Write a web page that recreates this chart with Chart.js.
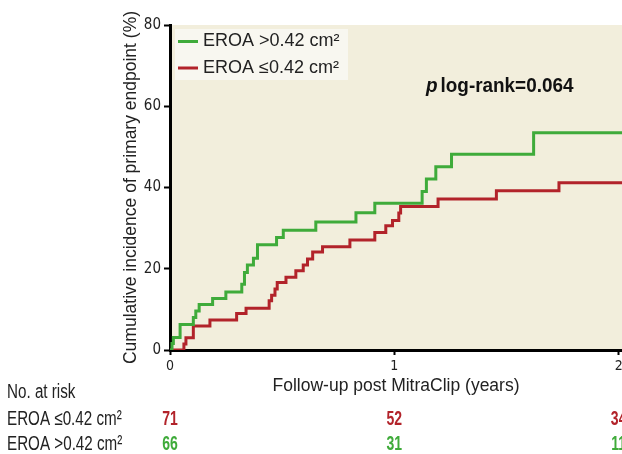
<!DOCTYPE html>
<html>
<head>
<meta charset="utf-8">
<script src="https://cdn.jsdelivr.net/npm/chart.js@4"></script>
<style>
  html, body { margin: 0; padding: 0; background: #fff; }
  canvas { display: block; }
</style>
</head>
<body>
<canvas id="km" width="622" height="454"></canvas>
<script>
// series labels (legend order: green first)
var seriesLabels = ["EROA >0.42 cm²", "EROA ≤0.42 cm²"];

// cumulative incidence steps (years, %)
var greenTimes = [0, 0.009, 0.015, 0.045, 0.104, 0.115, 0.13, 0.19, 0.249, 0.32, 0.332, 0.345, 0.372, 0.39, 0.475, 0.505, 0.65, 0.829, 0.913, 1.124, 1.143, 1.185, 1.255, 1.621, 2.02];
var greenPct   = [0, 1.6, 3.1, 6.3, 8.0, 9.6, 11.2, 12.7, 14.3, 16.2, 19.1, 20.9, 22.6, 25.9, 27.7, 29.5, 31.5, 33.8, 36.1, 39.0, 42.1, 45.1, 48.2, 53.5, 53.5];
var redTimes   = [0, 0.062, 0.071, 0.104, 0.178, 0.297, 0.339, 0.442, 0.453, 0.468, 0.478, 0.517, 0.561, 0.594, 0.613, 0.636, 0.68, 0.802, 0.913, 0.962, 0.992, 1.02, 1.028, 1.195, 1.455, 1.734, 2.02];
var redPct     = [0, 1.5, 3.0, 5.9, 7.4, 9.0, 10.3, 12.1, 13.5, 15.0, 16.6, 17.9, 19.5, 20.9, 22.4, 24.1, 25.4, 27.1, 28.9, 30.6, 31.9, 33.7, 35.3, 37.2, 39.2, 41.2, 41.2];

var xTicks = [0, 1, 2];
var yTicks = [0, 20, 40, 60, 80];

// numbers at risk
var riskTitle = "No. at risk";
var riskTimes = [0, 1, 2];
var riskLow  = [71, 52, 34];
var riskHigh = [66, 31, 11];

var pLabel = "log-rank=0.064";

var GREEN = "#3fab3a";
var RED = "#b2232a";
var TEXT = "#222";
var NARROW = "'Liberation Sans Narrow', 'DejaVu Sans Condensed', 'Liberation Sans', sans-serif";
var SANS = "'Liberation Sans', Arial, sans-serif";

function pts(xs, ys) {
  return xs.map(function (t, i) { return { x: t, y: ys[i] }; });
}

// draw text squeezed horizontally to mimic the condensed face of the original
function squeezed(c, text, x, y, sx, align) {
  var w = c.measureText(text).width * sx;
  var left = align === "center" ? x - w / 2 : x;
  c.save();
  c.textAlign = "left";
  c.translate(left, y);
  c.scale(sx, 1);
  c.fillText(text, 0, 0);
  c.restore();
  return w;
}

var bgPlugin = {
  id: "plotBg",
  beforeDraw: function (chart) {
    var a = chart.chartArea, c = chart.ctx;
    c.save();
    c.fillStyle = "#f2eedc";
    c.fillRect(a.left, a.top, a.right - a.left, a.bottom - a.top);
    c.restore();
  }
};

var extrasPlugin = {
  id: "extras",
  afterDraw: function (chart) {
    var c = chart.ctx;
    var xs = chart.scales.x;
    c.save();

    // legend box inside plot
    c.fillStyle = "#f8f7f0";
    c.fillRect(175, 29, 173, 51);
    var rows = [[seriesLabels[0], GREEN, 41.5], [seriesLabels[1], RED, 68]];
    rows.forEach(function (r) {
      c.strokeStyle = r[1];
      c.lineWidth = 3;
      c.beginPath();
      c.moveTo(178, r[2]);
      c.lineTo(198, r[2]);
      c.stroke();
      c.fillStyle = TEXT;
      c.font = "18px " + SANS;
      c.textBaseline = "middle";
      c.textAlign = "left";
      c.fillText(r[0], 203, r[2]);
    });

    // p value
    c.fillStyle = "#111";
    c.textBaseline = "alphabetic";
    c.font = "italic bold 21px " + SANS;
    var pw = squeezed(c, "p", 426, 92, 0.9, "left");
    c.font = "bold 21px " + SANS;
    squeezed(c, pLabel, 426 + pw + 3, 92, 0.9, "left");

    // numbers at risk table
    c.textBaseline = "middle";
    c.fillStyle = TEXT;
    c.font = "20px " + SANS;
    squeezed(c, riskTitle, 7, 392, 0.76, "left");
    squeezed(c, seriesLabels[1], 7, 419, 0.76, "left");
    squeezed(c, seriesLabels[0], 7, 444, 0.76, "left");
    c.font = "bold 20px " + SANS;
    riskTimes.forEach(function (t, i) {
      var px = xs.getPixelForValue(t);
      c.fillStyle = RED;
      squeezed(c, String(riskLow[i]), px, 419, 0.7, "center");
      c.fillStyle = GREEN;
      squeezed(c, String(riskHigh[i]), px, 444, 0.7, "center");
    });
    c.restore();
  }
};

var chart = new Chart(document.getElementById("km"), {
  type: "line",
  data: {
    datasets: [
      {
        label: seriesLabels[0],
        data: pts(greenTimes, greenPct),
        borderColor: GREEN,
        borderWidth: 3,
        stepped: true,
        pointRadius: 0,
        fill: false
      },
      {
        label: seriesLabels[1],
        data: pts(redTimes, redPct),
        borderColor: RED,
        borderWidth: 3,
        stepped: true,
        pointRadius: 0,
        fill: false
      }
    ]
  },
  options: {
    responsive: false,
    animation: false,
    devicePixelRatio: 1,
    layout: { padding: { top: 25, right: 0, bottom: 57, left: 0 } },
    plugins: {
      legend: { display: false },
      tooltip: { enabled: false }
    },
    scales: {
      x: {
        type: "linear",
        min: 0,
        max: 2.015,
        afterBuildTicks: function (s) { s.ticks = xTicks.map(function (v) { return { value: v }; }); },
        afterFit: function (s) { s.height = 47; s.paddingRight = 0; s.paddingLeft = 0; },
        grid: { drawOnChartArea: false, drawTicks: true, tickLength: 5, tickWidth: 2, tickColor: "#000" },
        border: { display: true, color: "#000", width: 3 },
        ticks: { font: { family: NARROW, size: 14 }, color: TEXT, padding: 3, maxRotation: 0 },
        title: {
          display: true,
          text: "Follow-up post MitraClip (years)",
          font: { family: SANS, size: 17.5 },
          color: TEXT,
          padding: { top: 0, bottom: 0 }
        }
      },
      y: {
        min: 0,
        max: 80,
        afterBuildTicks: function (s) { s.ticks = yTicks.map(function (v) { return { value: v }; }); },
        afterFit: function (s) { s.width = 170; },
        grid: { drawOnChartArea: false, drawTicks: true, tickLength: 6, tickWidth: 2, tickColor: "#000" },
        border: { display: true, color: "#000", width: 3 },
        ticks: { font: { family: NARROW, size: 15 }, color: TEXT, padding: 3 },
        title: {
          display: true,
          text: "Cumulative incidence of primary endpoint (%)",
          font: { family: SANS, size: 17.5 },
          color: TEXT,
          padding: { top: 121, bottom: 0 }
        }
      }
    }
  },
  plugins: [bgPlugin, extrasPlugin]
});
</script>
</body>
</html>
